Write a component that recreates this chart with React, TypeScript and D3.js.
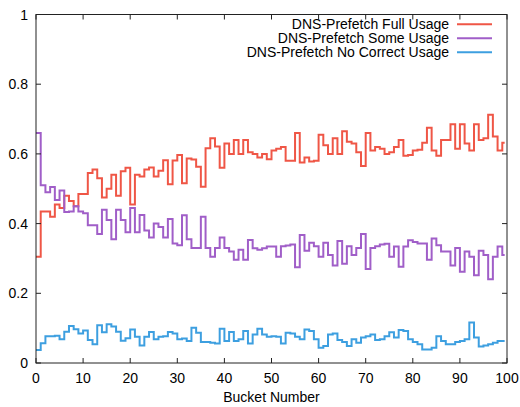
import React from "react";
import * as d3 from "d3";

const fullUsage = [
  0.305, 0.435, 0.435, 0.42, 0.455, 0.445, 0.48, 0.465, 0.45, 0.485,
  0.485, 0.545, 0.555, 0.53, 0.475, 0.5, 0.54, 0.48, 0.55, 0.56,
  0.455, 0.54, 0.535, 0.555, 0.561, 0.535, 0.552, 0.582, 0.513, 0.581,
  0.597, 0.516, 0.587, 0.584, 0.563, 0.506, 0.616, 0.645, 0.621, 0.56,
  0.63, 0.6, 0.64, 0.6, 0.64, 0.605, 0.6, 0.59, 0.6, 0.585,
  0.61, 0.615, 0.62, 0.58, 0.58, 0.66, 0.575, 0.59, 0.578, 0.58,
  0.655, 0.625, 0.6, 0.645, 0.6, 0.665, 0.635, 0.63, 0.605, 0.565,
  0.66, 0.61, 0.62, 0.615, 0.6, 0.605, 0.62, 0.64, 0.595, 0.597,
  0.61, 0.612, 0.632, 0.675, 0.61, 0.595, 0.64, 0.64, 0.685, 0.615,
  0.685, 0.63, 0.61, 0.685, 0.64, 0.645, 0.712, 0.65, 0.61, 0.632,
];

const someUsage = [
  0.66, 0.51, 0.49, 0.505, 0.468, 0.495, 0.433, 0.435, 0.45, 0.435,
  0.43, 0.395, 0.395, 0.37, 0.44, 0.41, 0.355, 0.44, 0.41, 0.375,
  0.445, 0.375, 0.425, 0.38, 0.36, 0.4, 0.39, 0.36, 0.413, 0.343,
  0.338, 0.424, 0.355, 0.33, 0.33, 0.42, 0.33, 0.305, 0.33, 0.36,
  0.33, 0.32, 0.296, 0.325, 0.296, 0.353, 0.329, 0.325, 0.329, 0.334,
  0.334, 0.305, 0.335, 0.337, 0.34, 0.275, 0.367, 0.322, 0.345, 0.335,
  0.305, 0.345, 0.31, 0.28, 0.35, 0.285, 0.335, 0.31, 0.33, 0.37,
  0.27, 0.33, 0.335, 0.34, 0.342, 0.305, 0.334, 0.276, 0.334, 0.352,
  0.347, 0.343, 0.343, 0.296, 0.357, 0.338, 0.32, 0.32, 0.28, 0.33,
  0.262, 0.32, 0.305, 0.252, 0.322, 0.31, 0.24, 0.305, 0.334, 0.31,
];

const noCorrectUsage = [
  0.037, 0.057, 0.077, 0.077, 0.078, 0.068, 0.09, 0.106, 0.097, 0.085,
  0.093, 0.066, 0.054, 0.108, 0.088, 0.111, 0.105, 0.09, 0.064, 0.071,
  0.096, 0.075, 0.05, 0.075, 0.089, 0.068, 0.075, 0.077, 0.089, 0.085,
  0.068, 0.07, 0.063, 0.101, 0.087, 0.06, 0.06, 0.058, 0.056, 0.098,
  0.063, 0.089, 0.063, 0.068, 0.092, 0.056, 0.082, 0.098, 0.082, 0.075,
  0.077, 0.075, 0.056, 0.087, 0.085, 0.075, 0.068, 0.096, 0.092, 0.068,
  0.044, 0.049, 0.082, 0.085, 0.066, 0.06, 0.049, 0.068, 0.058, 0.073,
  0.077, 0.082, 0.066, 0.068, 0.077, 0.088, 0.073, 0.095, 0.092, 0.068,
  0.06, 0.054, 0.039, 0.039, 0.044, 0.077, 0.063, 0.054, 0.054, 0.06,
  0.063, 0.068, 0.116, 0.073, 0.047, 0.05, 0.054, 0.058, 0.063, 0.063,
];

const seriesNames = [
  "DNS-Prefetch Full Usage",
  "DNS-Prefetch Some Usage",
  "DNS-Prefetch No Correct Usage",
];
const seriesColors = ["#ef5646", "#a05ec8", "#3d9fe0"];
const xTicks = [0, 10, 20, 30, 40, 50, 60, 70, 80, 90, 100];
const yTicks = [0, 0.2, 0.4, 0.6, 0.8, 1];
const yTickLabels = ["0", "0.2", "0.4", "0.6", "0.8", "1"];
const xTitle = "Bucket Number";
const lastBucketEnd = 99.5;

const W = 520;
const H = 407;
const M = { left: 36, right: 13, top: 14.5, bottom: 44 };
const FONT = "'Liberation Sans', Arial, Helvetica, sans-serif";
const FS = 14;

export default function App() {
  const x = d3.scaleLinear().domain([0, 100]).range([M.left, W - M.right]);
  const y = d3.scaleLinear().domain([0, 1]).range([H - M.bottom, M.top]);
  const allSeries = [fullUsage, someUsage, noCorrectUsage];

  const line = d3
    .line<[number, number]>()
    .x((d) => x(d[0]))
    .y((d) => y(d[1]))
    .curve(d3.curveStepAfter);

  const toPts = (vals: number[]): [number, number][] => {
    const pts: [number, number][] = vals.map((v, i) => [i, v]);
    pts.push([lastBucketEnd, vals[vals.length - 1]]);
    return pts;
  };

  const x0 = x(0), x1 = x(100), y0 = y(0), y1 = y(1);
  const tl = 5;
  const axisColor = "#222";

  return (
    <svg
      width={W}
      height={H}
      style={{ position: "absolute", left: 0, top: 0, background: "#fff" }}
      fontFamily={FONT}
    >
      {allSeries.map((s, k) => (
        <path
          key={k}
          d={line(toPts(s)) || ""}
          fill="none"
          stroke={seriesColors[k]}
          strokeWidth={2}
          strokeLinejoin="miter"
        />
      ))}
      <rect x={x0} y={y1} width={x1 - x0} height={y0 - y1} fill="none" stroke={axisColor} strokeWidth={1} />
      {yTicks.map((t, i) => (
        <g key={"y" + i}>
          <line x1={x0} x2={x0 + tl} y1={y(t)} y2={y(t)} stroke={axisColor} />
          <line x1={x1} x2={x1 - tl} y1={y(t)} y2={y(t)} stroke={axisColor} />
          <text x={x0 - 8} y={y(t)} textAnchor="end" dominantBaseline="central" fontSize={FS} fill="#000">
            {yTickLabels[i]}
          </text>
        </g>
      ))}
      {xTicks.map((t, i) => (
        <g key={"x" + i}>
          <line x1={x(t)} x2={x(t)} y1={y0} y2={y0 - tl} stroke={axisColor} />
          <line x1={x(t)} x2={x(t)} y1={y1} y2={y1 + tl} stroke={axisColor} />
          <text x={x(t)} y={y0 + 15} textAnchor="middle" dominantBaseline="central" fontSize={FS} fill="#000">
            {t}
          </text>
        </g>
      ))}
      <text x={(x0 + x1) / 2} y={y0 + 34} textAnchor="middle" dominantBaseline="central" fontSize={FS} fill="#000">
        {xTitle}
      </text>
      {seriesNames.map((n, k) => (
        <g key={"l" + k}>
          <text x={449} y={24.3 + k * 14} textAnchor="end" dominantBaseline="central" fontSize={FS} fill="#000">
            {n}
          </text>
          <line x1={457} x2={492} y1={24.3 + k * 14} y2={24.3 + k * 14} stroke={seriesColors[k]} strokeWidth={2} />
        </g>
      ))}
    </svg>
  );
}
